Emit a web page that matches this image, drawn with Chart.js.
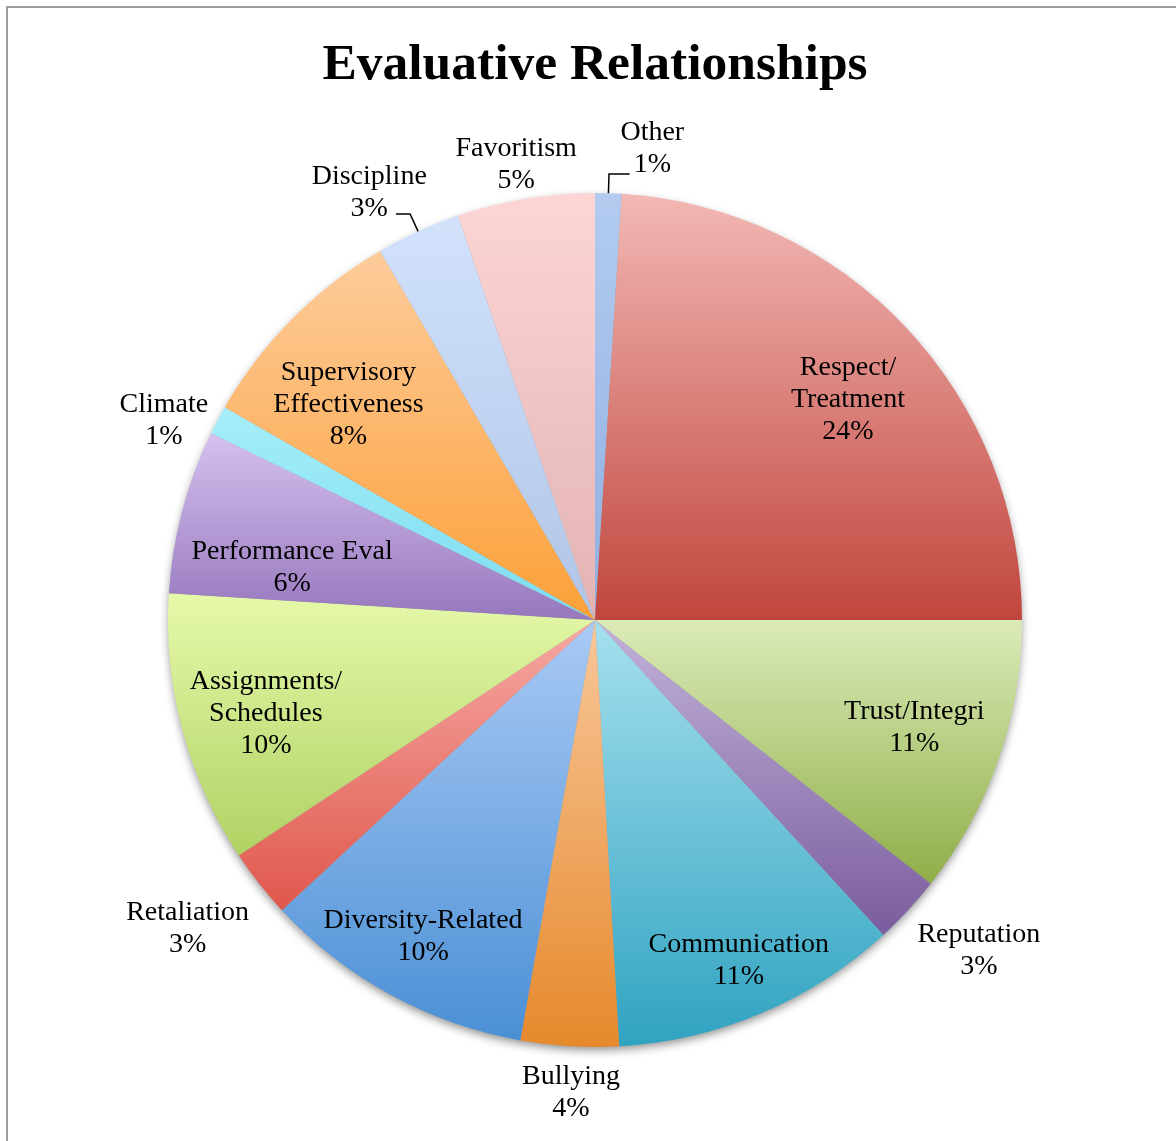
<!DOCTYPE html>
<html>
<head>
<meta charset="utf-8">
<title>Evaluative Relationships</title>
<script src="https://cdn.jsdelivr.net/npm/chart.js@4.4.1/dist/chart.umd.min.js"></script>
<style>
  html, body { margin: 0; padding: 0; background: #fff; }
  #wrap { position: relative; width: 1176px; height: 1141px; }
</style>
</head>
<body>
<div id="wrap"><canvas id="pieChart" width="1176" height="1141"></canvas></div>
<script>
const categories = ['Other', 'Respect/\nTreatment', 'Trust/Integri', 'Reputation', 'Communication', 'Bullying',
  'Diversity-Related', 'Retaliation', 'Assignments/\nSchedules', 'Performance Eval', 'Climate',
  'Supervisory\nEffectiveness', 'Discipline', 'Favoritism'];
const shares = [1.0, 24.0, 10.6, 2.6, 10.9, 3.7, 10.3, 2.6, 10.3, 6.2, 1.1, 8.3, 3.2, 5.2];

// slice fills run from a light tint at the top to the full colour at the bottom
const topColors = ['#b3cbef', '#f3b8b5', '#dcebb9', '#c2b3d9', '#a6e0ee', '#f8c79a', '#aacaf5',
  '#f6a9a4', '#e6f9aa', '#d5c0ef', '#a5eef9', '#fdcc9c', '#d2e2fb', '#fdd5d5'];
const bottomColors = ['#8fb0e2', '#c0463d', '#8fae48', '#7a5c9e', '#30a3c1', '#e6892c', '#4a8fd5',
  '#df574c', '#b0d263', '#9677bd', '#7cdcf0', '#fca038', '#b0c4e6', '#e3b3b3'];

// label placement: share of the radius, nudge in degrees, and whether a leader line is drawn
const labelRadius = [1.117, 0.79, 0.787, 1.183, 0.86, 1.103, 0.838, 1.194, 0.8, 0.721, 1.115, 0.77, 1.138, 1.089];
const labelNudge = [5.1, 1.8, -0.9, -2.3, -0.2, -0.5, 0.1, 1.2, -0.6, -4.5, -2.8, -3.4, -3.2, -0.4];
const leaderLines = [true, false, false, false, false, false, false, false, false, false, false, false, true, false];

const FONT = '"Liberation Serif", "Times New Roman", serif';
const total = shares.reduce((a, b) => a + b, 0);

const frame = {
  id: 'frame',
  beforeDraw(chart) {
    const ctx = chart.ctx;
    ctx.save();
    ctx.strokeStyle = '#9c9c9c';
    ctx.lineWidth = 2;
    ctx.beginPath();
    ctx.moveTo(7, chart.height);
    ctx.lineTo(7, 7);
    ctx.lineTo(chart.width, 7);
    ctx.stroke();
    ctx.restore();
  }
};

const sliceFill = {
  id: 'sliceFill',
  beforeDatasetsDraw(chart) {
    const ctx = chart.ctx;
    const arcs = chart.getDatasetMeta(0).data;
    const first = arcs[0];
    // soft drop shadow under the whole pie
    ctx.save();
    ctx.shadowColor = 'rgba(0,0,0,0.45)';
    ctx.shadowBlur = 10;
    ctx.shadowOffsetY = 4;
    ctx.fillStyle = '#999';
    ctx.beginPath();
    ctx.arc(first.x, first.y, first.outerRadius - 1, 0, Math.PI * 2);
    ctx.fill();
    ctx.restore();

    arcs.forEach((arc, i) => {
      const { x, y, startAngle, endAngle, outerRadius: r } = arc;
      const ys = [y, y + Math.sin(startAngle) * r, y + Math.sin(endAngle) * r];
      const has = a => {
        let t = a;
        while (t < startAngle) t += Math.PI * 2;
        return t <= endAngle;
      };
      if (has(-Math.PI / 2)) ys.push(y - r);
      if (has(Math.PI / 2)) ys.push(y + r);
      const g = ctx.createLinearGradient(0, Math.min(...ys), 0, Math.max(...ys));
      g.addColorStop(0, topColors[i]);
      g.addColorStop(1, bottomColors[i]);
      arc.options.backgroundColor = g;
    });
  }
};

const sliceLabels = {
  id: 'sliceLabels',
  afterDatasetsDraw(chart) {
    const ctx = chart.ctx;
    const arcs = chart.getDatasetMeta(0).data;
    ctx.save();
    ctx.font = '28px ' + FONT;
    ctx.fillStyle = '#000';
    ctx.textAlign = 'center';
    ctx.textBaseline = 'middle';
    arcs.forEach((arc, i) => {
      const mid = (arc.startAngle + arc.endAngle) / 2;
      const ang = mid + labelNudge[i] * Math.PI / 180;
      const rr = arc.outerRadius * labelRadius[i];
      const lx = arc.x + Math.cos(ang) * rr;
      const ly = arc.y + Math.sin(ang) * rr;
      const pct = Math.round(shares[i] / total * 100) + '%';
      const lines = categories[i].split('\n').concat(pct);
      const step = 32;
      const y0 = ly - (lines.length - 1) * step / 2 + 2.5;
      lines.forEach((t, k) => ctx.fillText(t, lx, y0 + k * step));

      if (leaderLines[i]) {
        const R = arc.outerRadius;
        const sx = arc.x + Math.cos(mid) * R, sy = arc.y + Math.sin(mid) * R;
        const ex = arc.x + Math.cos(mid) * R * 1.045, ey = arc.y + Math.sin(mid) * R * 1.045;
        const half = ctx.measureText(pct).width / 2;
        const hx = lx > ex ? lx - half - 4 : lx + half + 8;
        ctx.strokeStyle = '#000';
        ctx.lineWidth = 1.5;
        ctx.beginPath();
        ctx.moveTo(sx, sy);
        ctx.lineTo(ex, ey);
        ctx.lineTo(hx, ey);
        ctx.stroke();
      }
    });
    ctx.restore();
  }
};

new Chart(document.getElementById('pieChart'), {
  type: 'pie',
  data: {
    labels: categories,
    datasets: [{
      data: shares,
      backgroundColor: ctx => topColors[ctx.dataIndex],
      borderWidth: 0,
      hoverOffset: 0,
    }],
  },
  options: {
    responsive: false,
    animation: false,
    layout: { padding: { top: 0, bottom: 94, left: 14, right: 0 } },
    plugins: {
      legend: { display: false },
      tooltip: { enabled: false },
      title: {
        display: true,
        text: 'Evaluative Relationships',
        color: '#000',
        font: { family: FONT, size: 51.5, weight: 'bold', lineHeight: 1.2 },
        padding: { top: 35, bottom: 96.2 },
      },
    },
  },
  plugins: [frame, sliceFill, sliceLabels],
});
</script>
</body>
</html>
